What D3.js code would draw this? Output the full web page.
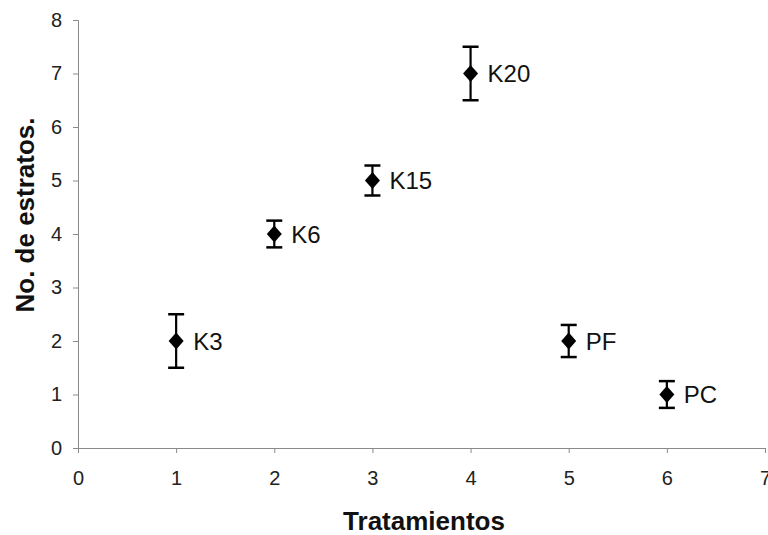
<!DOCTYPE html>
<html>
<head>
<meta charset="utf-8">
<script src="https://cdn.jsdelivr.net/npm/d3@7"></script>
<style>
  html, body { margin: 0; padding: 0; background: #fff; }
  svg { display: block; font-family: Arial, "Liberation Sans", sans-serif; }
</style>
</head>
<body>
<svg id="chart" width="768" height="535"></svg>
<script>
// Treatments: x position, mean number of strata, error half-width
const treatments = ["K3", "K6", "K15", "K20", "PF", "PC"];
const xValues = [1, 2, 3, 4, 5, 6];
const strata = [2, 4, 5, 7, 2, 1];
const errors = [0.5, 0.25, 0.28, 0.5, 0.3, 0.25];
const xTicks = [0, 1, 2, 3, 4, 5, 6, 7];
const yTicks = [0, 1, 2, 3, 4, 5, 6, 7, 8];

const svg = d3.select("#chart");
const margin = { left: 78, right: 3, top: 20, bottom: 87 };
const W = 768, H = 535;

const x = d3.scaleLinear().domain([0, 7]).range([margin.left, W - margin.right]);
const y = d3.scaleLinear().domain([0, 8]).range([H - margin.bottom, margin.top]);

const axisColor = "#8a8a8a";
const font = "Arial, 'Liberation Sans', sans-serif";

// Y axis
const gy = svg.append("g")
  .attr("transform", `translate(${x(0)},0)`)
  .call(d3.axisLeft(y).tickValues(yTicks).tickSize(5).tickPadding(11).tickFormat(d3.format("d")));
gy.select(".domain").attr("stroke", axisColor);
gy.selectAll(".tick line").attr("stroke", axisColor);
gy.selectAll(".tick text").attr("font-size", 20).attr("fill", "#222").attr("font-family", font);

// X axis
const gx = svg.append("g")
  .attr("transform", `translate(0,${y(0)})`)
  .call(d3.axisBottom(x).tickValues(xTicks).tickSize(5).tickPadding(18).tickFormat(d3.format("d")));
gx.select(".domain").attr("stroke", axisColor);
gx.selectAll(".tick line").attr("stroke", axisColor);
gx.selectAll(".tick text").attr("font-size", 20).attr("fill", "#222").attr("font-family", font);

// Axis titles
svg.append("text")
  .attr("x", 424)
  .attr("y", 530)
  .attr("text-anchor", "middle")
  .attr("font-size", 26)
  .attr("font-weight", "bold")
  .attr("fill", "#111")
  .text("Tratamientos");

svg.append("text")
  .attr("transform", "translate(34,215) rotate(-90)")
  .attr("text-anchor", "middle")
  .attr("font-size", 26)
  .attr("font-weight", "bold")
  .attr("fill", "#111")
  .text("No. de estratos.");

// Points with error bars
const data = treatments.map((t, i) => ({ name: t, x: xValues[i], v: strata[i], e: errors[i] }));
const capW = 8;
const g = svg.append("g").selectAll("g").data(data).join("g");

g.append("line")
  .attr("x1", d => x(d.x)).attr("x2", d => x(d.x))
  .attr("y1", d => y(d.v + d.e)).attr("y2", d => y(d.v - d.e))
  .attr("stroke", "#000").attr("stroke-width", 2.2);
g.append("line")
  .attr("x1", d => x(d.x) - capW).attr("x2", d => x(d.x) + capW)
  .attr("y1", d => y(d.v + d.e)).attr("y2", d => y(d.v + d.e))
  .attr("stroke", "#000").attr("stroke-width", 2.5);
g.append("line")
  .attr("x1", d => x(d.x) - capW).attr("x2", d => x(d.x) + capW)
  .attr("y1", d => y(d.v - d.e)).attr("y2", d => y(d.v - d.e))
  .attr("stroke", "#000").attr("stroke-width", 2.5);

g.append("path")
  .attr("d", d => {
    const cx = x(d.x), cy = y(d.v), hw = 7.5, hh = 8.5;
    return `M${cx},${cy - hh}L${cx + hw},${cy}L${cx},${cy + hh}L${cx - hw},${cy}Z`;
  })
  .attr("fill", "#000");

g.append("text")
  .attr("x", d => x(d.x) + 17)
  .attr("y", d => y(d.v))
  .attr("dy", "0.36em")
  .attr("font-size", 24)
  .attr("fill", "#111")
  .text(d => d.name);
</script>
</body>
</html>
